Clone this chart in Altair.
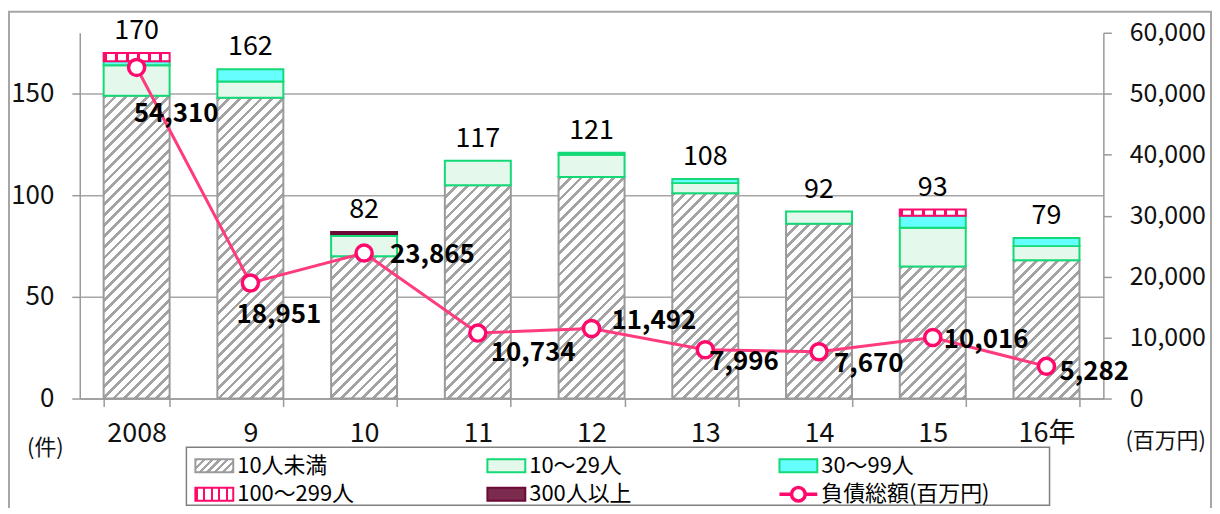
import json
import math
import altair as alt
import pandas as pd

# ---- data ----
years = ["2008", "9", "10", "11", "12", "13", "14", "15", "16年"]
series = ["10人未満", "10〜29人", "30〜99人", "100〜299人", "300人以上"]
under10 = [149, 148, 70, 105, 109, 101, 86, 65, 68]
s10_29 = [15, 8, 10, 12, 11, 5, 6, 19, 7]
s30_99 = [2, 6, 1, 0, 1, 2, 0, 6, 4]
s100_299 = [4, 0, 0, 0, 0, 0, 0, 3, 0]
s300 = [0, 0, 1, 0, 0, 0, 0, 0, 0]
totals = [170, 162, 82, 117, 121, 108, 92, 93, 79]
debt = [54310, 18951, 23865, 10734, 11492, 7996, 7670, 10016, 5282]
line_name = "負債総額(百万円)"

# ---- styling ----
FONT = "Noto Sans CJK JP"
PINK = "#ff0a6c"
LINE_PINK = "#ff3b7f"
W, H, YMAX = 1027, 367, 180
BAR_W = W / 9 * 0.58
strokes = ["#9a9a9a", "#14d977", "#14d977", "#ff0a6c", "#6b0b35"]
label_dx = [-3, -14, 26, 13, 20, 4, 15, 11, 13]
label_dy = [47, 32, 2, 20, -7, 12, 12, 3, 6]

RECT_PATH = "M-1,-0.34H1V0.34H-1Z"
LINE_PATH = ("M-1,0H-0.36M0.36,0H1M-0.36,0A0.36,0.36,0,1,1,0.36,0"
             "A0.36,0.36,0,1,1,-0.36,0Z")


def hatch(w, h, period=7.6, frac=0.36, ink="#a3a3a3", paper="#ffffff"):
    """diagonal '/' stripes as a hard-stop linear gradient for a w x h box"""
    s = (w + h) * w * h / (w * w + h * h)
    step = period * math.sqrt(2) / (w + h)
    stops, j = [], 0
    while j * step < 1:
        a = j * step
        b = min(1, a + frac * step)
        c = min(1, a + step)
        stops += [{"offset": a, "color": ink}, {"offset": b, "color": ink},
                  {"offset": b, "color": paper}, {"offset": c, "color": paper}]
        j += 1
    return {"gradient": "linear", "x1": 0, "y1": 0,
            "x2": round(s / h, 5), "y2": round(s / w, 5), "stops": stops}


def vstripes(n=6, frac=0.27, ink=PINK, paper="#ffffff"):
    stops = []
    for j in range(n):
        a, b, c = j / n, (j + frac) / n, (j + 1) / n
        stops += [{"offset": a, "color": ink}, {"offset": b, "color": ink},
                  {"offset": b, "color": paper}, {"offset": c, "color": paper}]
    return {"gradient": "linear", "x1": 0, "y1": 0, "x2": 1, "y2": 0, "stops": stops}


solid = {"10〜29人": "#e4f9ec", "30〜99人": "#66ffff", "300人以上": "#7d2a4f"}

# ---- tables ----
cols = [under10, s10_29, s30_99, s100_299, s300]
rows = []
for i, yr in enumerate(years):
    for k, name in enumerate(series):
        v = cols[k][i]
        if v > 0:
            if k == 0:
                f = hatch(BAR_W, v * H / YMAX)
            elif k == 3:
                f = vstripes()
            else:
                f = solid[name]
            rows.append({"year": yr, "series": name, "value": v, "k": k, "fillv": f})
bars_df = pd.DataFrame(rows)
tot_df = pd.DataFrame({"year": years, "total": totals})
line_df = pd.DataFrame({"year": years, "debt": debt, "dx": label_dx, "dy": label_dy})

domain = series + [line_name]
x_axis = alt.Axis(title=None, tickBand="extent", tickSize=8, labelPadding=14,
                  labelFontSize=27, labelAngle=0, labelColor="#111")
xenc = alt.X("year:N", sort=years,
             scale=alt.Scale(domain=years, paddingInner=0.42, paddingOuter=0.21),
             axis=x_axis)

left_axis = alt.Axis(orient="left", values=[0, 50, 100, 150], grid=True,
                     title="(件)", titleAngle=0, titleX=-35, titleY=416,
                     titleAlign="center", titleBaseline="middle",
                     titleFontSize=22, titleFontWeight="normal",
                     tickSize=8, labelPadding=18, labelFontSize=26,
                     labelColor="#111")
right_axis = alt.Axis(orient="right", values=list(range(0, 60001, 10000)),
                      labelExpr="format(datum.value, ',')", grid=False,
                      title="(百万円)", titleAngle=0,
                      titleX=62, titleY=409, titleAlign="center",
                      titleBaseline="middle", titleFontSize=22,
                      titleFontWeight="normal", tickSize=8, labelPadding=18,
                      labelFontSize=25, labelColor="#111")

is_line = f"datum.value === '{line_name}'"
leg_fill = {"10人未満": hatch(38, 13, period=5.5, frac=0.4),
            "100〜299人": vstripes(5, 0.3)}
leg_fill.update(solid)
fill_expr = "'#ffffff'"
for s in reversed(series):
    fv = leg_fill[s]
    lit = json.dumps(fv) if isinstance(fv, dict) else f"'{fv}'"
    fill_expr = f"datum.value === '{s}' ? {lit} : ({fill_expr})"

legend = alt.Legend(
    title=None, orient="none", legendX=124, legendY=422, columns=3,
    direction="horizontal", gridAlign="all", columnPadding=75, rowPadding=2,
    symbolSize=1444, labelLimit=400,
    symbolType={"expr": f"{is_line} ? '{LINE_PATH}' : '{RECT_PATH}'"},
    symbolFillColor={"expr": fill_expr},
    symbolStrokeWidth={"expr": f"{is_line} ? 3.5 : 2"},
    labelFontSize=22, labelFont=FONT, labelColor="#000", labelOffset=12,
)

bars = alt.Chart(bars_df).mark_bar(strokeWidth=2).encode(
    x=xenc,
    y=alt.Y("value:Q", stack="zero", scale=alt.Scale(domain=[0, YMAX]), axis=left_axis),
    fill=alt.Fill("fillv:N", scale=None),
    stroke=alt.Stroke("series:N", scale=alt.Scale(domain=domain, range=strokes + [PINK]),
                      legend=legend),
    order=alt.Order("k:Q", sort="ascending"),
)

tot_text = alt.Chart(tot_df).mark_text(
    baseline="middle", dy=-22, fontSize=27, font=FONT, color="#000"
).encode(
    x=xenc,
    y=alt.Y("total:Q", scale=alt.Scale(domain=[0, YMAX]), axis=left_axis),
    text=alt.Text("total:Q"),
)

left = alt.layer(bars, tot_text)

yright = alt.Y("debt:Q", scale=alt.Scale(domain=[0, 60000]), axis=right_axis)

line = alt.Chart(line_df).mark_line(color=LINE_PINK, strokeWidth=3).encode(x=xenc, y=yright)
pts = alt.Chart(line_df).mark_point(
    shape="circle", filled=True, fill="#ffffff", stroke=PINK, strokeWidth=3.5,
    size=260, opacity=1
).encode(x=xenc, y=yright)
lbl = alt.Chart(line_df).mark_text(
    align="left", baseline="middle", fontSize=26, fontWeight="bold", font=FONT,
    color="#000", dx=alt.expr("datum.dx"), dy=alt.expr("datum.dy")
).encode(
    x=xenc,
    y=yright,
    text=alt.Text("debt:Q", format=","),
)
right = alt.layer(line, pts, lbl)

one = pd.DataFrame({"a": [0]})
frame = alt.Chart(one).mark_rect(filled=False, stroke="#a6a6a6", strokeWidth=2).encode(
    x=alt.value(-71), x2=alt.value(1135), y=alt.value(-21), y2=alt.value(498))
legbox = alt.Chart(one).mark_rect(fill="#ffffff", stroke="#808080", strokeWidth=1.5).encode(
    x=alt.value(107), x2=alt.value(973), y=alt.value(416), y2=alt.value(474))

chart = alt.layer(frame, legbox, left, right).resolve_scale(y="independent").properties(
    width=W, height=H,
    autosize=alt.AutoSizeParams(type="none"),
    padding={"left": 72, "top": 24, "right": 109, "bottom": 109},
).configure_view(stroke="transparent").configure_axis(
    domainColor="#9a9a9a", tickColor="#9a9a9a", domainWidth=1.5, tickWidth=1.5,
    gridColor="#a6a6a6", gridWidth=1.5, labelFont=FONT, titleFont=FONT,
    titleColor="#111",
).configure_text(font=FONT)

chart.save("out.html", embed_options={"renderer": "svg", "actions": False})
